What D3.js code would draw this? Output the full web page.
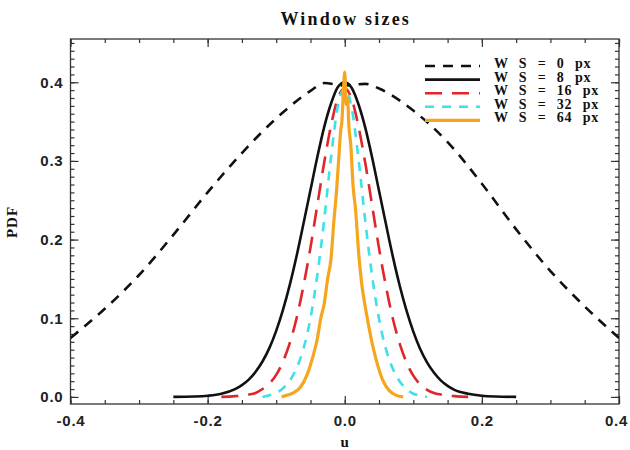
<!DOCTYPE html>
<html>
<head>
<meta charset="utf-8" />
<title>Window sizes</title>
<style>
  body { margin: 0; background: #fff; }
  svg { display: block; }
  .tick text { font-family: "Liberation Sans", Arial, sans-serif; font-weight: bold; font-size: 15px; fill: #222; letter-spacing: 0.8px; }
  .axis path, .axis line { stroke: #333; stroke-width: 1.2; }
  .lbl { font-family: "Liberation Serif", "DejaVu Serif", serif; font-weight: bold; fill: #111; }
</style>
</head>
<body>
<svg id="chart" width="630" height="450"></svg>
<script src="https://cdn.jsdelivr.net/npm/d3@7/dist/d3.min.js"></script>
<script>
// values: u (velocity increments) and PDF
var uWS0   = [-0.40, -0.35, -0.30, -0.25, -0.20, -0.15, -0.10, -0.05, -0.03, 0.00, 0.03, 0.05, 0.10, 0.15, 0.20, 0.25, 0.30, 0.35, 0.40];
var pdfWS0 = [0.075, 0.112, 0.155, 0.206, 0.260, 0.310, 0.354, 0.389, 0.399, 0.396, 0.398, 0.392, 0.364, 0.324, 0.271, 0.213, 0.160, 0.115, 0.075];

var uWS8   = [-0.25, -0.22, -0.20, -0.18, -0.16, -0.15, -0.14, -0.13, -0.12, -0.11, -0.10, -0.09, -0.08, -0.07, -0.06, -0.05, -0.04, -0.03, -0.02, -0.01, 0.00,
              0.01, 0.02, 0.03, 0.04, 0.05, 0.06, 0.07, 0.08, 0.09, 0.10, 0.11, 0.12, 0.13, 0.14, 0.15, 0.16, 0.18, 0.20, 0.22, 0.25];
var pdfWS8 = [0.000, 0.0005, 0.0015, 0.004, 0.010, 0.015, 0.022, 0.032, 0.045, 0.062, 0.084, 0.111, 0.143, 0.180, 0.221, 0.263, 0.305, 0.343, 0.373, 0.394, 0.400,
              0.393, 0.372, 0.342, 0.304, 0.262, 0.220, 0.179, 0.142, 0.110, 0.083, 0.061, 0.044, 0.031, 0.021, 0.014, 0.009, 0.004, 0.0015, 0.0005, 0.000];

var uWS16   = [-0.18, -0.16, -0.14, -0.13, -0.12, -0.11, -0.10, -0.09, -0.08, -0.07, -0.06, -0.05, -0.04, -0.03, -0.02, -0.01, 0.00,
               0.01, 0.02, 0.03, 0.04, 0.05, 0.06, 0.07, 0.08, 0.09, 0.10, 0.11, 0.12, 0.13, 0.14, 0.16, 0.18];
var pdfWS16 = [0.000, 0.001, 0.003, 0.005, 0.010, 0.017, 0.028, 0.045, 0.069, 0.101, 0.142, 0.190, 0.244, 0.298, 0.345, 0.380, 0.392,
               0.379, 0.344, 0.297, 0.243, 0.189, 0.141, 0.100, 0.068, 0.044, 0.027, 0.016, 0.009, 0.005, 0.003, 0.001, 0.000];

var uWS32   = [-0.12, -0.11, -0.10, -0.09, -0.08, -0.07, -0.06, -0.05, -0.04, -0.03, -0.02, -0.01, 0.00,
               0.01, 0.02, 0.03, 0.04, 0.05, 0.06, 0.07, 0.08, 0.09, 0.10, 0.11, 0.12];
var pdfWS32 = [0.000, 0.002, 0.005, 0.011, 0.021, 0.037, 0.062, 0.100, 0.155, 0.225, 0.305, 0.370, 0.392,
               0.368, 0.303, 0.223, 0.153, 0.099, 0.061, 0.036, 0.020, 0.010, 0.004, 0.002, 0.000];

// the largest window gives a noisy, spiky curve
var uWS64   = [-0.092, -0.085, -0.075, -0.065, -0.055, -0.045, -0.040, -0.035, -0.030, -0.025, -0.020, -0.016, -0.012, -0.009, -0.006, -0.004, -0.002, 0.000,
               0.002, 0.004, 0.006, 0.009, 0.012, 0.016, 0.020, 0.025, 0.030, 0.035, 0.040, 0.045, 0.055, 0.065, 0.075, 0.085];
var pdfWS64 = [0.000, 0.002, 0.005, 0.012, 0.028, 0.056, 0.074, 0.100, 0.118, 0.150, 0.176, 0.222, 0.262, 0.300, 0.338, 0.352, 0.388, 0.413,
               0.372, 0.380, 0.345, 0.318, 0.270, 0.236, 0.186, 0.142, 0.114, 0.090, 0.068, 0.050, 0.022, 0.008, 0.002, 0.000];

var legendLabels = ["W S = 0 px", "W S = 8 px", "W S = 16 px", "W S = 32 px", "W S = 64 px"];
var xMajor = [-0.4, -0.2, 0.0, 0.2, 0.4];
var yMajor = [0.0, 0.1, 0.2, 0.3, 0.4];

var series = [
  { u: uWS0,  p: pdfWS0,  color: "#111111", dash: "10,8",  width: 2.6 },
  { u: uWS8,  p: pdfWS8,  color: "#111111", dash: null,    width: 2.6 },
  { u: uWS16, p: pdfWS16, color: "#e0252b", dash: "17,10", width: 2.6 },
  { u: uWS32, p: pdfWS32, color: "#3fe0e6", dash: "9,8",   width: 2.6 },
  { u: uWS64, p: pdfWS64, color: "#f6a51e", dash: null,    width: 3.2 }
];

var svg = d3.select("#chart");
var pLeft = 70.5, pRight = 619, pTop = 39, pBottom = 404;

var x = d3.scaleLinear().domain([-0.4, 0.4]).range([pLeft, pRight]);
var y = d3.scaleLinear().domain([-0.009, 0.455]).range([pBottom, pTop]);

var xMinor = d3.range(-0.4, 0.4001, 0.05);
var yMinor = d3.range(0, 0.4501, 0.01);

// minor ticks on all four sides, pointing inward
function minorTicks(axis, tx, ty) {
  svg.append("g").attr("class", "axis").attr("transform", "translate(" + tx + "," + ty + ")")
    .call(axis.tickSizeInner(-4).tickSizeOuter(0).tickFormat(""))
    .call(function(g) { g.select(".domain").remove(); });
}
minorTicks(d3.axisBottom(x).tickValues(xMinor), 0, pBottom);
minorTicks(d3.axisTop(x).tickValues(xMinor), 0, pTop);
minorTicks(d3.axisLeft(y).tickValues(yMinor), pLeft, 0);
minorTicks(d3.axisRight(y).tickValues(yMinor), pRight, 0);

// major ticks
var xAxisG = svg.append("g").attr("class", "axis").attr("transform", "translate(0," + pBottom + ")")
  .call(d3.axisBottom(x).tickValues(xMajor).tickSizeInner(-8).tickSizeOuter(0).tickPadding(11)
    .tickFormat(function(d) { return d3.format(".1f")(d).replace("\u2212", "-"); }))
  .call(function(g) { g.select(".domain").remove(); });
// last label sits against the right edge of the page
xAxisG.selectAll(".tick text").filter(function(d) { return d === 0.4; }).attr("dx", -3);

svg.append("g").attr("class", "axis").attr("transform", "translate(0," + pTop + ")")
  .call(d3.axisTop(x).tickValues(xMajor).tickSizeInner(-8).tickSizeOuter(0).tickFormat(""))
  .call(function(g) { g.select(".domain").remove(); });
svg.append("g").attr("class", "axis").attr("transform", "translate(" + pLeft + ",0)")
  .call(d3.axisLeft(y).tickValues(yMajor).tickSizeInner(-8).tickSizeOuter(0).tickPadding(7)
    .tickFormat(d3.format(".1f")))
  .call(function(g) { g.select(".domain").remove(); });
svg.append("g").attr("class", "axis").attr("transform", "translate(" + pRight + ",0)")
  .call(d3.axisRight(y).tickValues(yMajor).tickSizeInner(-8).tickSizeOuter(0).tickFormat(""))
  .call(function(g) { g.select(".domain").remove(); });

// frame
svg.append("rect").attr("x", pLeft).attr("y", pTop).attr("width", pRight - pLeft).attr("height", pBottom - pTop)
  .attr("fill", "none").attr("stroke", "#333").attr("stroke-width", 1.3);

svg.append("clipPath").attr("id", "plotclip").append("rect")
  .attr("x", pLeft).attr("y", pTop).attr("width", pRight - pLeft).attr("height", pBottom - pTop);

var line = d3.line().curve(d3.curveMonotoneX)
  .x(function(d) { return x(d[0]); })
  .y(function(d) { return y(d[1]); });

var plot = svg.append("g").attr("clip-path", "url(#plotclip)");
series.forEach(function(s) {
  var pts = s.u.map(function(u, i) { return [u, s.p[i]]; });
  plot.append("path").datum(pts)
    .attr("d", line)
    .attr("fill", "none")
    .attr("stroke", s.color)
    .attr("stroke-width", s.width)
    .attr("stroke-linejoin", "round")
    .attr("stroke-dasharray", s.dash);
});

// legend
var leg = svg.append("g");
series.forEach(function(s, i) {
  var ly = 66 + i * 13.6;
  leg.append("line").attr("x1", 425).attr("x2", 480).attr("y1", ly).attr("y2", ly)
    .attr("stroke", s.color).attr("stroke-width", s.width)
    .attr("stroke-dasharray", s.dash);
  leg.append("text").attr("class", "lbl").attr("x", 494).attr("y", ly + 2)
    .attr("font-size", 14).attr("letter-spacing", 0.8).attr("word-spacing", 6)
    .text(legendLabels[i]);
});

// titles
svg.append("text").attr("class", "lbl").attr("x", (pLeft + pRight) / 2 + 1).attr("y", 25)
  .attr("text-anchor", "middle").attr("font-size", 18).attr("letter-spacing", 2.2)
  .text("Window sizes");
svg.append("text").attr("class", "lbl").attr("x", (pLeft + pRight) / 2).attr("y", 447)
  .attr("text-anchor", "middle").attr("font-size", 15).text("u");
svg.append("text").attr("class", "lbl")
  .attr("transform", "translate(17,222) rotate(-90)")
  .attr("text-anchor", "middle").attr("font-size", 15).attr("letter-spacing", 1).text("PDF");
</script>
</body>
</html>
